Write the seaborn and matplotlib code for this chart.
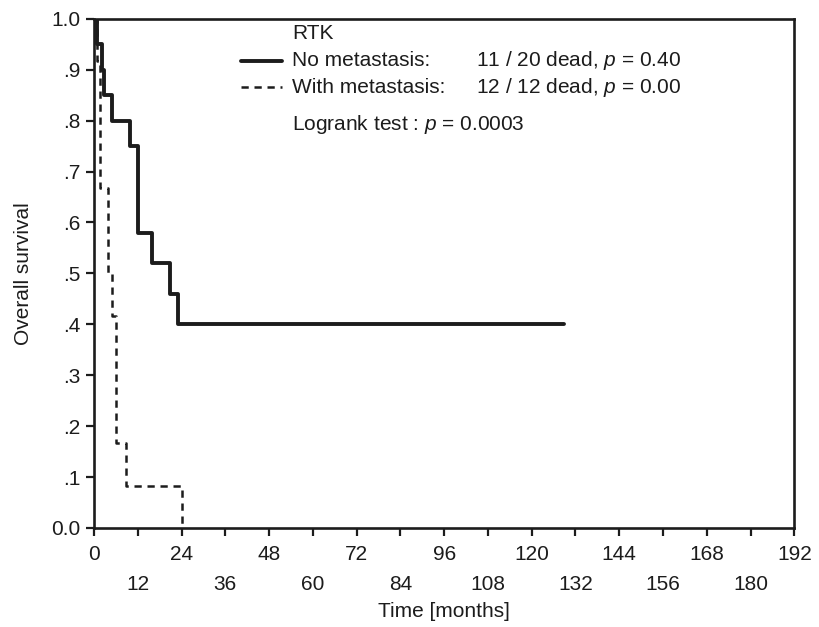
import pandas as pd
import matplotlib.pyplot as plt
import seaborn as sns

sns.set_theme(style="white")
plt.rcParams["font.family"] = ["Liberation Sans", "DejaVu Sans"]
plt.rcParams["mathtext.fontset"] = "custom"
plt.rcParams["mathtext.rm"] = "Liberation Sans"
plt.rcParams["mathtext.it"] = "Liberation Sans:italic"

# Kaplan-Meier step data
no_met_time = [0, 0.7, 2.1, 2.7, 4.9, 9.9, 12.1, 15.8, 20.8, 23.1, 129]
no_met_surv = [1.0, 0.95, 0.90, 0.85, 0.80, 0.75, 0.58, 0.52, 0.46, 0.40, 0.40]
met_time = [0, 0.7, 1.6, 3.9, 4.9, 6.1, 8.8, 24.0]
met_surv = [1.0, 0.917, 0.667, 0.50, 0.417, 0.167, 0.083, 0.0]

group_labels = ["No metastasis:", "With metastasis:"]
group_stats = ["11 / 20 dead, $p$ = 0.40", "12 / 12 dead, $p$ = 0.00"]
logrank_text = "Logrank test : $p$ = 0.0003"

x_major = list(range(0, 193, 24))
x_minor = list(range(12, 181, 24))
y_ticks = [i / 10 for i in range(11)]
y_labels = ["0.0", ".1", ".2", ".3", ".4", ".5", ".6", ".7", ".8", ".9", "1.0"]

no_met = pd.DataFrame({"time": no_met_time, "surv": no_met_surv})
met = pd.DataFrame({"time": met_time, "surv": met_surv})

FS = 15
INK = "#1c1c1c"
SOLID_LW = 2.8
DASH_LW = 1.8
DASH = (0, (2.9, 2.3))

fig = plt.figure(figsize=(8.19, 6.27), dpi=100)
ax = fig.add_axes([0.1148, 0.158, 0.855, 0.812])

sns.lineplot(data=no_met, x="time", y="surv", drawstyle="steps-post",
             color=INK, linewidth=SOLID_LW, estimator=None, ax=ax)
sns.lineplot(data=met, x="time", y="surv", drawstyle="steps-post",
             color=INK, linewidth=DASH_LW, linestyle=DASH,
             estimator=None, ax=ax)

ax.set_xlim(0, 192)
ax.set_ylim(0, 1.0)
ax.set_xticks(x_major)
ax.set_xticklabels([str(v) for v in x_major])
ax.set_xticks(x_minor, minor=True)
ax.set_xticklabels([str(v) for v in x_minor], minor=True)
ax.set_yticks(y_ticks)
ax.set_yticklabels(y_labels)

ax.tick_params(axis="both", which="both", direction="out", length=6,
               width=1.6, color=INK, labelsize=FS, labelcolor=INK,
               bottom=True, left=True)
ax.tick_params(axis="x", which="major", pad=6)
ax.tick_params(axis="x", which="minor", pad=28)
ax.tick_params(axis="y", pad=4)

for sp in ax.spines.values():
    sp.set_linewidth(1.9)
    sp.set_color(INK)

ax.set_xlabel("Time [months]", fontsize=FS, color=INK, labelpad=6)
ax.set_ylabel("Overall survival", fontsize=FS, color=INK, labelpad=13)

# legend block, written by hand to keep the two text columns aligned
ax.text(0.283, 0.9705, "RTK", transform=ax.transAxes, fontsize=FS,
        color=INK, va="center", ha="left")
row_y = [0.9175, 0.866]
for y, lab, stat, lw, ls in zip(row_y, group_labels, group_stats,
                                 [SOLID_LW, DASH_LW], ["-", DASH]):
    ax.plot([0.210, 0.269], [y, y], transform=ax.transAxes, color=INK,
            linewidth=lw, linestyle=ls, clip_on=False)
    ax.text(0.283, y, lab, transform=ax.transAxes, fontsize=FS,
            color=INK, va="center", ha="left")
    ax.text(0.546, y, stat, transform=ax.transAxes, fontsize=FS,
            color=INK, va="center", ha="left")
ax.text(0.283, 0.792, logrank_text, transform=ax.transAxes, fontsize=FS,
        color=INK, va="center", ha="left")

fig.savefig("out.png", dpi=100)
